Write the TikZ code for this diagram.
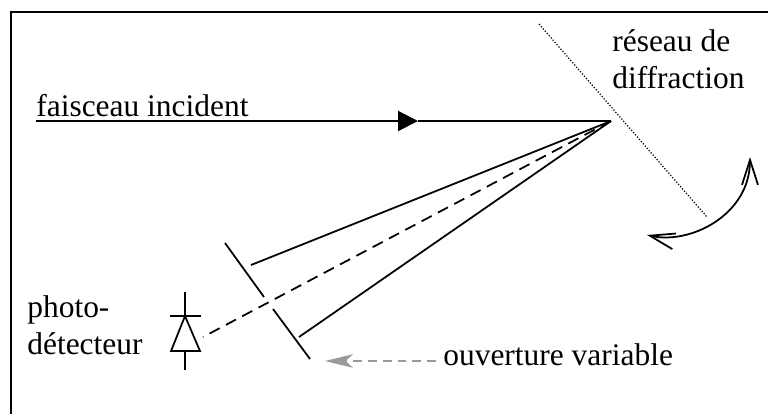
\documentclass[tikz,border=0pt]{standalone}
\usepackage{fontspec}
\setmainfont{Liberation Serif}
\usepackage{tikz}
\usetikzlibrary{
    arrows.meta
}
\tikzset{
    beam/.style={line width=1pt},
    caption/.style={font=\fontsize{17.9}{20.5}\selectfont, inner sep=0pt, align=left}
}

\begin{document}
\begin{tikzpicture}[x=0.02cm,y=-0.02cm]
\useasboundingbox (0,0) rectangle (768,414);

% Frame
\draw[line width=1.1pt] (11,414) -- (11,12) -- (768,12);

% Points
\coordinate (start) at (36,121);
\coordinate (thick) at (275,121);
\coordinate (tip) at (418,121);
\coordinate (spot) at (611,121);
\coordinate (upper) at (251,265);
\coordinate (lower) at (299,337);
\coordinate (center) at (203,337);

% Incident beam
\draw[line width=0.8pt] (start) -- (thick);
\draw[line width=1.2pt, -{Triangle[length=4mm,width=4mm]}] (thick) -- (tip);
\draw[line width=0.9pt] (tip) -- (spot);
\node[caption, anchor=base west] (incident) at (36,116) {faisceau incident};

% Grating
\coordinate (gratingtop) at (539,24);
\coordinate (gratingend) at (707,217);
\draw[line width=0.7pt, dash pattern=on 0.7pt off 1pt] (gratingtop) -- (gratingend);
\node[caption, anchor=base west] (grating) at (612,88) {réseau de\\diffraction};

% Rotation
\coordinate (rotleft) at (647,235);
\coordinate (rotright) at (750,157);
\draw[beam, {Straight Barb[length=5mm,width=3.2mm]}-{Straight Barb[length=5mm,width=3.2mm]}] (rotleft) .. controls (690,245) and (750,215) .. (rotright);

% Diffracted beam
\draw[beam] (spot) -- (upper);
\draw[beam] (spot) -- (lower);
\draw[beam, dash pattern=on 6.5pt off 4pt] (spot) -- (center);

% Aperture
\coordinate (slitA) at (225,243);
\coordinate (slitB) at (264,297);
\coordinate (slitC) at (273,309);
\coordinate (slitD) at (310,359);
\draw[beam] (slitA) -- (slitB);
\draw[beam] (slitC) -- (slitD);
\coordinate (grayend) at (325,361);
\coordinate (graystart) at (436,361);
\draw[gray!80, line width=0.8pt, dash pattern=on 5pt off 3.4pt, -{Stealth[length=5.6mm,width=2.7mm,inset=1.5mm]}] (graystart) -- (grayend);
\node[caption, anchor=base west] (aperture) at (443,365) {ouverture variable};

% Photodiode
\coordinate (diodetop) at (185,292);
\coordinate (diodeapex) at (185,316);
\coordinate (diodebase) at (185,351);
\coordinate (diodeend) at (185,370);
\draw[beam] (diodetop) -- (diodeapex);
\draw[beam] (170,316) -- (201,316);
\draw[beam] (diodeapex) -- (200,351) -- (171,351) -- cycle;
\draw[beam] (diodebase) -- (diodeend);
\node[caption, anchor=base west] (detector) at (27,354) {photo-\\détecteur};
\end{tikzpicture}
\end{document}
